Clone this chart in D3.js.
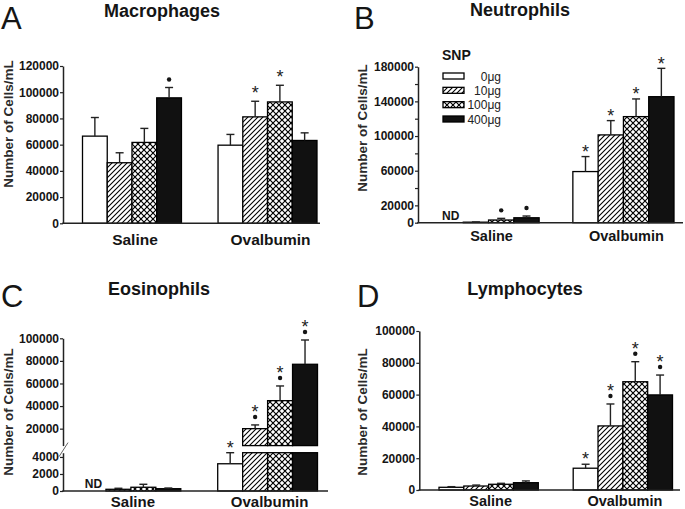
<!DOCTYPE html>
<html><head><meta charset="utf-8">
<script src="https://cdn.jsdelivr.net/npm/d3@7"></script>
<style>
body{margin:0;background:#fff}
svg{display:block}
text{font-family:"Liberation Sans",Arial,Helvetica,sans-serif}
</style>
</head><body>
<svg id="chart" width="685" height="509"></svg>
<script>
// ---------- DATA ----------
const groups = ["Saline", "Ovalbumin"];
const doses = ["0μg", "10μg", "100μg", "400μg"];
const legendTitle = "SNP";
const yTitle = "Number of Cells/mL";
const panelLetters = ["A", "B", "C", "D"];
const panelTitles = ["Macrophages", "Neutrophils", "Eosinophils", "Lymphocytes"];
const ndLabel = "ND";

const macroSaline = [66500, 46200, 61700, 95700];
const macroSalineSEM = [14200, 7600, 10700, 7900];
const macroOva = [59600, 81200, 92600, 63200];
const macroOvaSEM = [8200, 11900, 12700, 5800];
const macroSalineMarks = ["", "", "", "•"];
const macroOvaMarks = ["", "*", "*", ""];

const neutSaline = [0, 600, 3100, 5700];
const neutSalineSEM = [0, 300, 1900, 2000];
const neutOva = [59000, 101300, 122400, 145400];
const neutOvaSEM = [17300, 16500, 20400, 32700];
const neutSalineMarks = ["", "", "•", "•"];
const neutOvaMarks = ["*", "*", "*", "*"];

const eosSaline = [0, 200, 440, 270];
const eosSalineSEM = [0, 120, 350, 80];
const eosOva = [3200, 20000, 44800, 77000];
const eosOvaSEM = [1300, 3300, 13000, 21500];
const eosSalineMarks = ["", "", "", ""];
const eosOvaMarks = ["*", "*•", "*•", "*•"];

const lymSaline = [1700, 2500, 3600, 4600];
const lymSalineSEM = [400, 600, 600, 1100];
const lymOva = [13700, 40300, 68100, 59800];
const lymOvaSEM = [2500, 13800, 12600, 12500];
const lymSalineMarks = ["", "", "", ""];
const lymOvaMarks = ["*", "*•", "*•", "*•"];

const ticksA = [0, 20000, 40000, 60000, 80000, 100000, 120000];
const ticksB = [0, 20000, 60000, 100000, 140000, 180000];
const minorTicksB = [40000, 80000, 120000, 160000];
const ticksCLow = [0, 2000, 4000];
const ticksCHigh = [20000, 40000, 60000, 80000, 100000];
const ticksD = [0, 20000, 40000, 60000, 80000, 100000];

// ---------- DRAWING ----------
const svg = d3.select("#chart");
const INK = "#151515";
const fills = ["#fff", "url(#hatch)", "url(#cross)", "#111"];

const defs = svg.append("defs");
const ph = defs.append("pattern").attr("id", "hatch").attr("patternUnits", "userSpaceOnUse")
  .attr("width", 5).attr("height", 5);
ph.append("rect").attr("width", 5).attr("height", 5).attr("fill", "#fff");
ph.append("path").attr("d", "M-1,1 L1,-1 M0,5 L5,0 M4,6 L6,4")
  .attr("stroke", "#000").attr("stroke-width", 1.1);
const pc = defs.append("pattern").attr("id", "cross").attr("patternUnits", "userSpaceOnUse")
  .attr("width", 6).attr("height", 6);
pc.append("rect").attr("width", 6).attr("height", 6).attr("fill", "#fff");
pc.append("path").attr("d", "M-1,-1 L7,7 M-1,7 L7,-1")
  .attr("stroke", "#000").attr("stroke-width", 1.2);

function makeYOf(segs) {
  return v => {
    for (const s of segs) {
      if (v >= s.lo && v <= s.hi) return s.scale(v);
    }
    return segs[segs.length - 1].scale(v);
  };
}

function drawPanel(o) {
  const g = svg.append("g");
  const yOf = makeYOf(o.segs);

  // panel letter + title
  g.append("text").attr("x", o.letterX).attr("y", o.letterY).attr("font-size", 31)
    .attr("fill", INK).text(o.letter);
  g.append("text").attr("x", o.titleX).attr("y", o.titleY).attr("text-anchor", "middle")
    .attr("font-size", 18).attr("font-weight", "bold").attr("fill", INK).text(o.title);

  // y axis title
  g.append("text").attr("transform", `translate(${o.yTitleX},${o.yTitleY}) rotate(-90)`)
    .attr("text-anchor", "middle").attr("font-size", 13.5).attr("font-weight", "bold")
    .attr("fill", "#2a2a2a").text(yTitle);

  const x0 = d3.scaleBand().domain(groups).range(o.groupRange).paddingInner(o.pad);
  const x1 = d3.scaleBand().domain(doses).range([0, x0.bandwidth()]);

  const series = [
    {grp: groups[0], vals: o.saline, sem: o.salineSEM, marks: o.salineMarks},
    {grp: groups[1], vals: o.ova, sem: o.ovaSEM, marks: o.ovaMarks}
  ];

  series.forEach(s => {
    const gx = x0(s.grp);
    s.vals.forEach((v, i) => {
      const bx = gx + x1(doses[i]);
      const bw = x1.bandwidth();
      if (v > 0) {
        o.segs.forEach(seg => {
          if (v > seg.lo) {
            const top = seg.scale(Math.min(v, seg.hi));
            const bot = seg.scale(seg.lo);
            g.append("rect").attr("x", bx).attr("y", top).attr("width", bw)
              .attr("height", bot - top).attr("fill", fills[i])
              .attr("stroke", "#000").attr("stroke-width", 1.3);
          }
        });
      }
      const cx = bx + bw / 2;
      const errTop = yOf(v + s.sem[i]);
      if (s.sem[i] > 0) {
        g.append("line").attr("x1", cx).attr("x2", cx).attr("y1", yOf(v)).attr("y2", errTop)
          .attr("stroke", "#222").attr("stroke-width", 1.4);
        g.append("line").attr("x1", cx - 4).attr("x2", cx + 4).attr("y1", errTop).attr("y2", errTop)
          .attr("stroke", "#222").attr("stroke-width", 1.4);
      }
      const m = s.marks[i];
      const hasDot = m.includes("•"), hasStar = m.includes("*");
      if (hasDot) {
        g.append("circle").attr("cx", cx).attr("cy", errTop - 8).attr("r", 2.2).attr("fill", INK);
      }
      if (hasStar) {
        const c = errTop - (hasDot ? 17.5 : o.starOff);
        g.append("text").attr("x", cx).attr("y", c + 10.5).attr("text-anchor", "middle")
          .attr("font-size", 18).attr("fill", "#222").text("*");
      }
    });
  });

  // ND label
  if (o.nd) {
    g.append("text").attr("x", x0(groups[0]) + x1(doses[0]) + x1.bandwidth() / 2)
      .attr("y", o.segs[0].scale(0) - 3).attr("text-anchor", "middle")
      .attr("font-size", 12).attr("font-weight", "bold").attr("fill", INK).text(ndLabel);
  }

  // y axes
  o.segs.forEach(seg => {
    const ax = d3.axisLeft(seg.scale).tickValues(seg.ticks).tickSize(3).tickPadding(1)
      .tickSizeOuter(0).tickFormat(d3.format("d"));
    const ag = g.append("g").attr("transform", `translate(${o.axisX},0)`).call(ax);
    ag.select(".domain").attr("stroke", "#222").attr("stroke-width", 1.5);
    ag.selectAll(".tick line").attr("stroke", "#222").attr("stroke-width", 1.2);
    ag.selectAll(".tick text").attr("font-size", 12).attr("font-weight", "bold")
      .attr("fill", INK).attr("font-family", '"Liberation Sans",Arial,sans-serif');
    if (seg.minor) {
      const am = d3.axisLeft(seg.scale).tickValues(seg.minor).tickSize(3).tickFormat("");
      const mg = g.append("g").attr("transform", `translate(${o.axisX},0)`).call(am);
      mg.select(".domain").remove();
      mg.selectAll(".tick line").attr("stroke", "#222").attr("stroke-width", 1.2);
    }
  });

  // x axis baseline
  const y0 = o.segs[0].scale(0);
  g.append("line").attr("x1", o.axisX - 0.75).attr("x2", o.xEnd).attr("y1", y0).attr("y2", y0)
    .attr("stroke", "#222").attr("stroke-width", 1.5);

  // group labels
  groups.forEach(gr => {
    g.append("text").attr("x", x0(gr) + x0.bandwidth() / 2 + o.labelDx).attr("y", o.labelY)
      .attr("text-anchor", "middle").attr("font-size", o.labelSize).attr("font-weight", "bold")
      .attr("fill", INK).text(gr);
  });

  if (o.breakMark) {
    g.append("line").attr("x1", o.axisX - 4).attr("y1", o.breakMark[1] + 4)
      .attr("x2", o.axisX + 5).attr("y2", o.breakMark[0] - 3)
      .attr("stroke", "#666").attr("stroke-width", 1);
  }
  return g;
}

// Panel A
drawPanel({
  letter: panelLetters[0], letterX: 1, letterY: 29, title: panelTitles[0], titleX: 162, titleY: 17,
  yTitleX: 13, yTitleY: 124, axisX: 63, xEnd: 320,
  segs: [{lo: 0, hi: 120000, ticks: ticksA, scale: d3.scaleLinear().domain([0, 120000]).range([223.3, 66])}],
  groupRange: [82.5, 317], pad: 0.27,
  saline: macroSaline, salineSEM: macroSalineSEM, salineMarks: macroSalineMarks,
  ova: macroOva, ovaSEM: macroOvaSEM, ovaMarks: macroOvaMarks,
  starOff: 12.5, labelY: 245, labelDx: 3, labelSize: 15.5, nd: false
});

// Panel B
drawPanel({
  letter: panelLetters[1], letterX: 354, letterY: 29, title: panelTitles[1], titleX: 520, titleY: 16,
  yTitleX: 367, yTitleY: 128, axisX: 418, xEnd: 683,
  segs: [{lo: 0, hi: 180000, ticks: ticksB, minor: minorTicksB,
          scale: d3.scaleLinear().domain([0, 180000]).range([222.7, 66.7])}],
  groupRange: [438, 674], pad: 0.25,
  saline: neutSaline, salineSEM: neutSalineSEM, salineMarks: neutSalineMarks,
  ova: neutOva, ovaSEM: neutOvaSEM, ovaMarks: neutOvaMarks,
  starOff: 9, labelY: 241, labelDx: 3, labelSize: 14.5, nd: true
});

// Panel C (broken axis)
drawPanel({
  letter: panelLetters[2], letterX: 1, letterY: 307, title: panelTitles[2], titleX: 159, titleY: 295,
  yTitleX: 13, yTitleY: 412, axisX: 63, xEnd: 328,
  segs: [
    {lo: 0, hi: 4500, ticks: ticksCLow, scale: d3.scaleLinear().domain([0, 4500]).range([491, 452.7])},
    {lo: 5000, hi: 100000, ticks: ticksCHigh, scale: d3.scaleLinear().domain([5000, 100000]).range([445.6, 338.3])}
  ],
  groupRange: [81, 317.5], pad: 0.27,
  saline: eosSaline, salineSEM: eosSalineSEM, salineMarks: eosSalineMarks,
  ova: eosOva, ovaSEM: eosOvaSEM, ovaMarks: eosOvaMarks,
  starOff: 9.5, labelY: 507, labelDx: 2, labelSize: 15, nd: true, breakMark: [445.6, 452.7]
});

// Panel D
drawPanel({
  letter: panelLetters[3], letterX: 357, letterY: 307, title: panelTitles[3], titleX: 525, titleY: 295,
  yTitleX: 367, yTitleY: 412, axisX: 419.3, xEnd: 680,
  segs: [{lo: 0, hi: 100000, ticks: ticksD, scale: d3.scaleLinear().domain([0, 100000]).range([490, 331])}],
  groupRange: [439, 672.5], pad: 0.26,
  saline: lymSaline, salineSEM: lymSalineSEM, salineMarks: lymSalineMarks,
  ova: lymOva, ovaSEM: lymOvaSEM, ovaMarks: lymOvaMarks,
  starOff: 10, labelY: 506, labelDx: 2, labelSize: 14.5, nd: false
});

// Legend (in panel B)
const lg = svg.append("g");
lg.append("text").attr("x", 442).attr("y", 60).attr("font-size", 14).attr("font-weight", "bold")
  .attr("fill", INK).text(legendTitle);
const ly = d3.scalePoint().domain(doses).range([76, 119]);
doses.forEach((d, i) => {
  lg.append("rect").attr("x", 443).attr("y", ly(d) - 3).attr("width", 21).attr("height", 6)
    .attr("fill", fills[i]).attr("stroke", "#000").attr("stroke-width", 1.3);
  lg.append("text").attr("x", 501).attr("y", ly(d) + 4.5).attr("text-anchor", "end")
    .attr("font-size", 12).attr("fill", "#222").text(d);
});
</script>
</body></html>
